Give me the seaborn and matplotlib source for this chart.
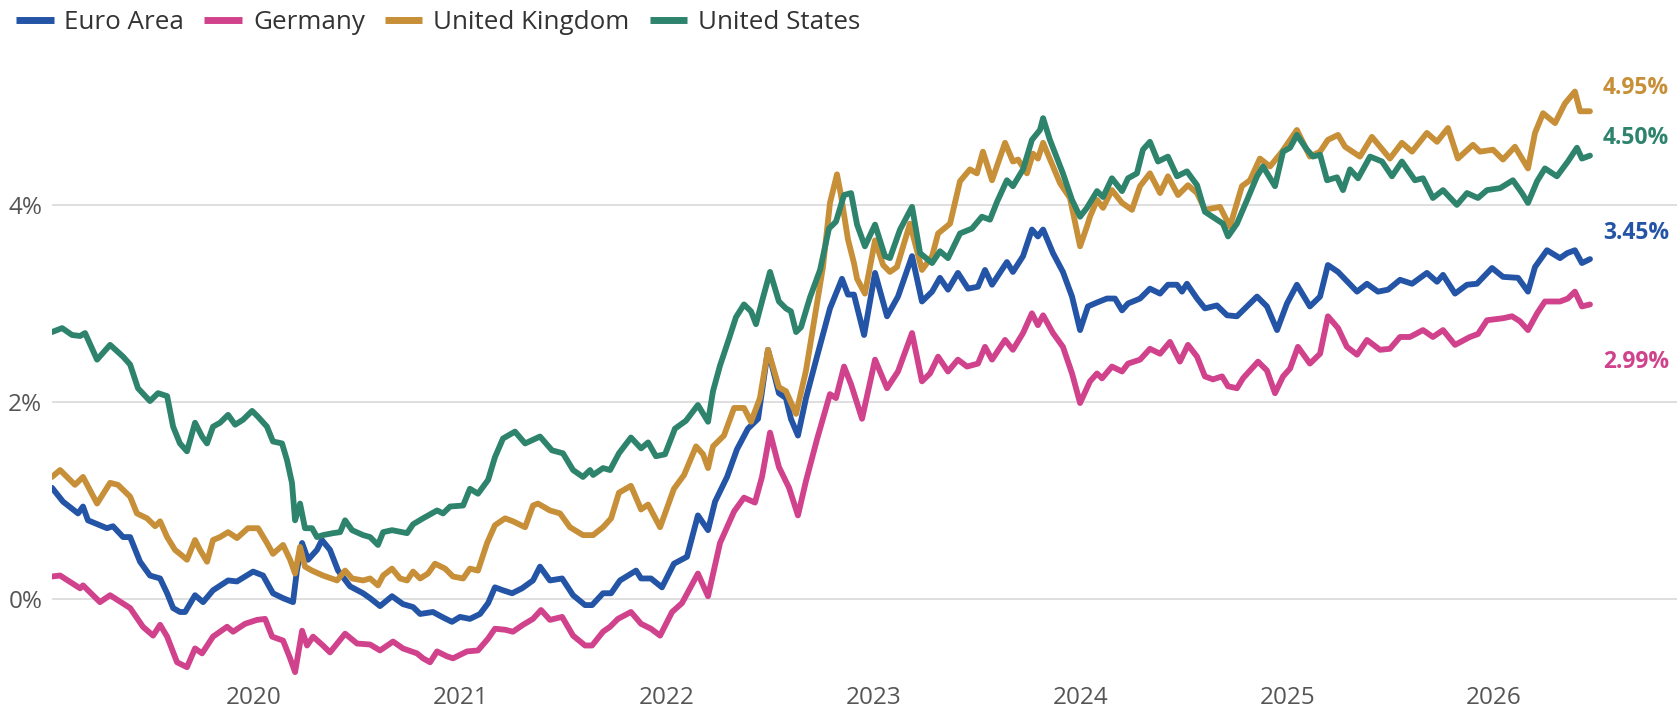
import numpy as np
import pandas as pd
import matplotlib
matplotlib.use("Agg")
import matplotlib.pyplot as plt
import seaborn as sns
from matplotlib.lines import Line2D

# 10-year government bond yields (%), sampled as (decimal year, yield)
series_names = ["Euro Area", "Germany", "United Kingdom", "United States"]
colors = ["#2354a6", "#d1428d", "#c78f37", "#2e836d"]

euro_area = [
    (2019.024, 1.13), (2019.077, 0.99), (2019.150, 0.87), (2019.174, 0.94), (2019.198, 0.80), (2019.290, 0.72),
    (2019.319, 0.74), (2019.368, 0.63), (2019.402, 0.63), (2019.450, 0.38), (2019.498, 0.24), (2019.547, 0.21),
    (2019.581, 0.06), (2019.610, -0.09), (2019.643, -0.13), (2019.668, -0.13), (2019.716, 0.04), (2019.755, -0.03),
    (2019.803, 0.09), (2019.876, 0.19), (2019.919, 0.18), (2019.997, 0.28),
    (2020.045, 0.24), (2020.093, 0.06), (2020.142, 0.01), (2020.190, -0.03), (2020.209, 0.29), (2020.234, 0.57),
    (2020.263, 0.40), (2020.306, 0.50), (2020.330, 0.60), (2020.369, 0.50), (2020.408, 0.29), (2020.466, 0.13),
    (2020.529, 0.06), (2020.563, 0.01), (2020.611, -0.07), (2020.669, 0.03), (2020.722, -0.05), (2020.771, -0.08),
    (2020.805, -0.15), (2020.867, -0.13), (2020.911, -0.18), (2020.959, -0.23), (2020.998, -0.18),
    (2021.046, -0.20), (2021.095, -0.15), (2021.134, -0.04), (2021.167, 0.12), (2021.206, 0.09), (2021.250, 0.06),
    (2021.298, 0.11), (2021.351, 0.19), (2021.385, 0.33), (2021.433, 0.19), (2021.492, 0.21), (2021.545, 0.04),
    (2021.603, -0.06), (2021.637, -0.06), (2021.690, 0.06), (2021.729, 0.06), (2021.772, 0.19), (2021.850, 0.29),
    (2021.874, 0.21), (2021.922, 0.21), (2021.975, 0.12),
    (2022.033, 0.36), (2022.096, 0.43), (2022.149, 0.85), (2022.198, 0.70), (2022.232, 0.99), (2022.290, 1.24),
    (2022.338, 1.52), (2022.391, 1.73), (2022.440, 1.83), (2022.488, 2.53), (2022.541, 2.09), (2022.575, 2.04),
    (2022.599, 1.83), (2022.633, 1.66), (2022.672, 2.04), (2022.725, 2.46), (2022.788, 2.95), (2022.846, 3.25),
    (2022.875, 3.09), (2022.904, 3.09), (2022.953, 2.68),
    (2023.006, 3.31), (2023.064, 2.87), (2023.117, 3.07), (2023.185, 3.48), (2023.233, 3.02), (2023.282, 3.12),
    (2023.320, 3.26), (2023.359, 3.14), (2023.407, 3.31), (2023.456, 3.15), (2023.504, 3.17), (2023.538, 3.34),
    (2023.572, 3.19), (2023.644, 3.42), (2023.673, 3.32), (2023.722, 3.48), (2023.765, 3.75), (2023.794, 3.68),
    (2023.819, 3.75), (2023.867, 3.51), (2023.915, 3.32), (2023.959, 3.07), (2023.998, 2.73),
    (2024.036, 2.97), (2024.080, 3.01), (2024.128, 3.05), (2024.167, 3.05), (2024.201, 2.93), (2024.230, 3.00),
    (2024.288, 3.05), (2024.336, 3.15), (2024.385, 3.10), (2024.423, 3.19), (2024.467, 3.19), (2024.491, 3.12),
    (2024.515, 3.20), (2024.564, 3.05), (2024.602, 2.95), (2024.660, 2.98), (2024.709, 2.88), (2024.757, 2.87),
    (2024.796, 2.95), (2024.854, 3.07), (2024.902, 2.97), (2024.951, 2.73), (2024.999, 3.00),
    (2025.047, 3.19), (2025.110, 2.97), (2025.159, 3.07), (2025.197, 3.39), (2025.246, 3.32), (2025.338, 3.12),
    (2025.386, 3.20), (2025.439, 3.12), (2025.488, 3.14), (2025.546, 3.24), (2025.604, 3.20), (2025.676, 3.31),
    (2025.725, 3.22), (2025.754, 3.29), (2025.812, 3.10), (2025.870, 3.19), (2025.918, 3.20), (2025.991, 3.36),
    (2026.044, 3.27), (2026.117, 3.26), (2026.165, 3.12), (2026.199, 3.37), (2026.257, 3.54), (2026.320, 3.46),
    (2026.354, 3.51), (2026.392, 3.54), (2026.426, 3.41), (2026.465, 3.45),
]

germany = [
    (2019.024, 0.23), (2019.063, 0.24), (2019.160, 0.11), (2019.174, 0.14), (2019.256, -0.03), (2019.305, 0.04),
    (2019.402, -0.09), (2019.464, -0.28), (2019.513, -0.37), (2019.547, -0.26), (2019.581, -0.38), (2019.629, -0.64),
    (2019.677, -0.69), (2019.716, -0.50), (2019.750, -0.55), (2019.803, -0.38), (2019.871, -0.28), (2019.900, -0.33),
    (2019.958, -0.25),
    (2020.016, -0.21), (2020.055, -0.20), (2020.089, -0.38), (2020.142, -0.42), (2020.176, -0.60), (2020.200, -0.74),
    (2020.234, -0.32), (2020.258, -0.47), (2020.287, -0.38), (2020.335, -0.47), (2020.369, -0.54), (2020.442, -0.35),
    (2020.500, -0.45), (2020.563, -0.46), (2020.611, -0.52), (2020.674, -0.43), (2020.722, -0.50), (2020.790, -0.55),
    (2020.819, -0.60), (2020.853, -0.64), (2020.887, -0.53), (2020.935, -0.58), (2020.964, -0.60),
    (2021.032, -0.53), (2021.085, -0.52), (2021.134, -0.40), (2021.167, -0.30), (2021.216, -0.31), (2021.254, -0.33),
    (2021.303, -0.26), (2021.351, -0.20), (2021.390, -0.11), (2021.433, -0.21), (2021.492, -0.18), (2021.545, -0.37),
    (2021.603, -0.47), (2021.637, -0.47), (2021.690, -0.33), (2021.724, -0.28), (2021.762, -0.20), (2021.825, -0.13),
    (2021.874, -0.25), (2021.922, -0.30), (2021.966, -0.37),
    (2022.024, -0.13), (2022.072, -0.04), (2022.149, 0.26), (2022.198, 0.03), (2022.256, 0.57), (2022.324, 0.89),
    (2022.372, 1.03), (2022.425, 0.98), (2022.459, 1.24), (2022.498, 1.69), (2022.541, 1.34), (2022.590, 1.13),
    (2022.633, 0.85), (2022.672, 1.20), (2022.725, 1.62), (2022.788, 2.08), (2022.817, 2.04), (2022.856, 2.36),
    (2022.890, 2.18), (2022.943, 1.83),
    (2023.006, 2.43), (2023.064, 2.14), (2023.117, 2.31), (2023.185, 2.70), (2023.233, 2.21), (2023.272, 2.29),
    (2023.311, 2.46), (2023.359, 2.31), (2023.407, 2.43), (2023.451, 2.36), (2023.504, 2.39), (2023.538, 2.56),
    (2023.572, 2.43), (2023.635, 2.63), (2023.673, 2.53), (2023.722, 2.70), (2023.765, 2.90), (2023.794, 2.78),
    (2023.819, 2.88), (2023.867, 2.70), (2023.915, 2.56), (2023.959, 2.29), (2023.998, 1.99),
    (2024.046, 2.21), (2024.080, 2.29), (2024.104, 2.24), (2024.152, 2.36), (2024.201, 2.31), (2024.230, 2.39),
    (2024.288, 2.43), (2024.336, 2.54), (2024.385, 2.49), (2024.433, 2.61), (2024.481, 2.41), (2024.520, 2.58),
    (2024.564, 2.46), (2024.602, 2.26), (2024.641, 2.23), (2024.685, 2.26), (2024.714, 2.16), (2024.757, 2.14),
    (2024.786, 2.24), (2024.859, 2.41), (2024.902, 2.32), (2024.941, 2.09), (2024.980, 2.26),
    (2025.014, 2.34), (2025.052, 2.56), (2025.110, 2.39), (2025.159, 2.49), (2025.197, 2.87), (2025.246, 2.75),
    (2025.289, 2.56), (2025.338, 2.48), (2025.386, 2.63), (2025.449, 2.53), (2025.497, 2.54), (2025.546, 2.66),
    (2025.594, 2.66), (2025.657, 2.73), (2025.705, 2.66), (2025.754, 2.73), (2025.812, 2.58), (2025.884, 2.66),
    (2025.923, 2.69), (2025.967, 2.83),
    (2026.044, 2.85), (2026.088, 2.87), (2026.126, 2.82), (2026.165, 2.73), (2026.209, 2.90), (2026.247, 3.02),
    (2026.320, 3.02), (2026.358, 3.05), (2026.392, 3.12), (2026.426, 2.97), (2026.465, 2.99),
]

united_kingdom = [
    (2019.024, 1.24), (2019.063, 1.31), (2019.135, 1.16), (2019.174, 1.24), (2019.242, 0.97), (2019.305, 1.18),
    (2019.343, 1.16), (2019.402, 1.04), (2019.435, 0.87), (2019.484, 0.82), (2019.523, 0.74), (2019.547, 0.79),
    (2019.581, 0.63), (2019.619, 0.50), (2019.643, 0.46), (2019.677, 0.40), (2019.716, 0.60), (2019.740, 0.50),
    (2019.774, 0.38), (2019.803, 0.60), (2019.837, 0.63), (2019.876, 0.68), (2019.919, 0.62), (2019.972, 0.72),
    (2020.021, 0.72), (2020.064, 0.57), (2020.093, 0.46), (2020.142, 0.55), (2020.176, 0.40), (2020.200, 0.26),
    (2020.224, 0.53), (2020.248, 0.33), (2020.282, 0.29), (2020.335, 0.24), (2020.403, 0.19), (2020.442, 0.29),
    (2020.476, 0.21), (2020.529, 0.19), (2020.563, 0.21), (2020.601, 0.14), (2020.626, 0.24), (2020.669, 0.31),
    (2020.708, 0.21), (2020.742, 0.19), (2020.771, 0.28), (2020.805, 0.21), (2020.843, 0.26), (2020.877, 0.36),
    (2020.926, 0.31), (2020.964, 0.23),
    (2021.013, 0.21), (2021.046, 0.31), (2021.085, 0.29), (2021.129, 0.57), (2021.167, 0.75), (2021.216, 0.82),
    (2021.254, 0.79), (2021.313, 0.73), (2021.351, 0.95), (2021.375, 0.97), (2021.433, 0.90), (2021.482, 0.87),
    (2021.530, 0.73), (2021.593, 0.65), (2021.642, 0.65), (2021.690, 0.73), (2021.729, 0.82), (2021.767, 1.08),
    (2021.825, 1.15), (2021.874, 0.91), (2021.908, 0.96), (2021.966, 0.73),
    (2022.033, 1.12), (2022.082, 1.26), (2022.140, 1.55), (2022.174, 1.47), (2022.198, 1.33), (2022.222, 1.55),
    (2022.275, 1.66), (2022.324, 1.94), (2022.372, 1.94), (2022.406, 1.80), (2022.449, 2.04), (2022.488, 2.53),
    (2022.541, 2.15), (2022.575, 2.11), (2022.624, 1.88), (2022.672, 2.32), (2022.716, 2.88), (2022.754, 3.37),
    (2022.788, 4.02), (2022.822, 4.31), (2022.841, 4.10), (2022.875, 3.65), (2022.904, 3.41), (2022.919, 3.25),
    (2022.957, 3.10),
    (2023.006, 3.64), (2023.045, 3.39), (2023.078, 3.32), (2023.112, 3.37), (2023.175, 3.81), (2023.233, 3.34),
    (2023.282, 3.48), (2023.311, 3.71), (2023.369, 3.81), (2023.417, 4.24), (2023.465, 4.36), (2023.499, 4.32),
    (2023.528, 4.54), (2023.572, 4.25), (2023.635, 4.63), (2023.673, 4.44), (2023.698, 4.46), (2023.741, 4.32),
    (2023.770, 4.52), (2023.794, 4.47), (2023.819, 4.63), (2023.867, 4.39), (2023.901, 4.22), (2023.949, 4.07),
    (2023.998, 3.58),
    (2024.031, 3.78), (2024.046, 3.88), (2024.080, 4.05), (2024.109, 3.97), (2024.152, 4.15), (2024.201, 4.02),
    (2024.249, 3.95), (2024.288, 4.19), (2024.336, 4.32), (2024.385, 4.12), (2024.423, 4.29), (2024.472, 4.10),
    (2024.520, 4.20), (2024.564, 4.12), (2024.602, 3.95), (2024.675, 3.98), (2024.723, 3.78), (2024.781, 4.19),
    (2024.820, 4.25), (2024.868, 4.47), (2024.917, 4.39), (2024.975, 4.54),
    (2025.047, 4.76), (2025.110, 4.49), (2025.159, 4.54), (2025.197, 4.66), (2025.246, 4.71), (2025.280, 4.59),
    (2025.352, 4.49), (2025.410, 4.69), (2025.497, 4.47), (2025.555, 4.63), (2025.604, 4.54), (2025.676, 4.73),
    (2025.725, 4.64), (2025.778, 4.78), (2025.826, 4.47), (2025.899, 4.61), (2025.933, 4.54), (2025.996, 4.56),
    (2026.044, 4.46), (2026.102, 4.59), (2026.165, 4.37), (2026.199, 4.73), (2026.238, 4.93), (2026.296, 4.83),
    (2026.344, 5.03), (2026.392, 5.15), (2026.417, 4.95), (2026.465, 4.95),
]

united_states = [
    (2019.024, 2.71), (2019.073, 2.75), (2019.121, 2.68), (2019.160, 2.67), (2019.184, 2.70), (2019.242, 2.43),
    (2019.305, 2.58), (2019.368, 2.46), (2019.402, 2.38), (2019.440, 2.14), (2019.498, 2.01), (2019.537, 2.09),
    (2019.581, 2.06), (2019.610, 1.75), (2019.643, 1.58), (2019.677, 1.50), (2019.716, 1.79), (2019.750, 1.65),
    (2019.774, 1.58), (2019.803, 1.75), (2019.837, 1.79), (2019.876, 1.87), (2019.910, 1.77), (2019.948, 1.82),
    (2019.992, 1.91),
    (2020.021, 1.85), (2020.064, 1.75), (2020.093, 1.60), (2020.137, 1.58), (2020.161, 1.41), (2020.185, 1.18),
    (2020.200, 0.80), (2020.224, 0.97), (2020.248, 0.72), (2020.282, 0.72), (2020.306, 0.63), (2020.335, 0.65),
    (2020.384, 0.67), (2020.418, 0.68), (2020.442, 0.80), (2020.476, 0.70), (2020.529, 0.65), (2020.563, 0.63),
    (2020.601, 0.55), (2020.626, 0.68), (2020.669, 0.70), (2020.742, 0.67), (2020.771, 0.76), (2020.819, 0.82),
    (2020.887, 0.90), (2020.916, 0.87), (2020.950, 0.94),
    (2021.013, 0.95), (2021.046, 1.12), (2021.085, 1.07), (2021.134, 1.21), (2021.167, 1.44), (2021.206, 1.63),
    (2021.264, 1.70), (2021.313, 1.58), (2021.385, 1.65), (2021.443, 1.51), (2021.496, 1.48), (2021.545, 1.31),
    (2021.593, 1.24), (2021.627, 1.31), (2021.642, 1.26), (2021.690, 1.33), (2021.724, 1.31), (2021.767, 1.48),
    (2021.825, 1.64), (2021.874, 1.53), (2021.908, 1.59), (2021.946, 1.45), (2021.990, 1.47),
    (2022.038, 1.73), (2022.091, 1.81), (2022.149, 1.97), (2022.198, 1.80), (2022.222, 2.11), (2022.256, 2.37),
    (2022.299, 2.64), (2022.333, 2.86), (2022.372, 2.99), (2022.406, 2.92), (2022.430, 2.79), (2022.464, 3.06),
    (2022.498, 3.32), (2022.541, 3.02), (2022.575, 2.95), (2022.599, 2.92), (2022.624, 2.71), (2022.648, 2.76),
    (2022.691, 3.06), (2022.740, 3.34), (2022.783, 3.76), (2022.817, 3.83), (2022.856, 4.10), (2022.890, 4.12),
    (2022.919, 3.80), (2022.957, 3.58),
    (2023.006, 3.80), (2023.054, 3.48), (2023.078, 3.46), (2023.127, 3.75), (2023.185, 3.98), (2023.224, 3.51),
    (2023.282, 3.41), (2023.320, 3.53), (2023.359, 3.46), (2023.417, 3.71), (2023.475, 3.76), (2023.523, 3.88),
    (2023.562, 3.85), (2023.596, 4.03), (2023.644, 4.25), (2023.673, 4.19), (2023.722, 4.36), (2023.765, 4.66),
    (2023.804, 4.76), (2023.819, 4.88), (2023.852, 4.66), (2023.915, 4.32), (2023.959, 4.05), (2023.998, 3.88),
    (2024.031, 3.97), (2024.080, 4.14), (2024.109, 4.08), (2024.152, 4.27), (2024.201, 4.14), (2024.230, 4.27),
    (2024.273, 4.32), (2024.302, 4.56), (2024.336, 4.64), (2024.375, 4.44), (2024.423, 4.49), (2024.467, 4.29),
    (2024.515, 4.34), (2024.564, 4.20), (2024.602, 3.93), (2024.660, 3.85), (2024.689, 3.81), (2024.714, 3.68),
    (2024.757, 3.81), (2024.806, 4.05), (2024.854, 4.29), (2024.883, 4.39), (2024.941, 4.19), (2024.980, 4.54),
    (2025.014, 4.58), (2025.047, 4.71), (2025.096, 4.56), (2025.125, 4.49), (2025.159, 4.51), (2025.193, 4.25),
    (2025.241, 4.28), (2025.270, 4.15), (2025.304, 4.36), (2025.343, 4.27), (2025.401, 4.49), (2025.459, 4.44),
    (2025.507, 4.29), (2025.555, 4.44), (2025.618, 4.25), (2025.657, 4.27), (2025.705, 4.07), (2025.754, 4.15),
    (2025.821, 4.00), (2025.870, 4.12), (2025.923, 4.07), (2025.967, 4.15),
    (2026.030, 4.17), (2026.092, 4.25), (2026.136, 4.12), (2026.165, 4.02), (2026.209, 4.24), (2026.247, 4.37),
    (2026.305, 4.29), (2026.358, 4.44), (2026.402, 4.58), (2026.426, 4.47), (2026.465, 4.50),
]

year_ticks = [2020, 2021, 2022, 2023, 2024, 2025, 2026]
pct_ticks = [0, 2, 4]

# long-form table for seaborn
frames = []
for name, pts in zip(series_names, [euro_area, germany, united_kingdom, united_states]):
    arr = np.asarray(pts, dtype=float)
    frames.append(pd.DataFrame({"year": arr[:, 0], "yield": arr[:, 1], "series": name}))
df = pd.concat(frames, ignore_index=True)

sns.set_theme(style="white")
plt.rcParams["font.family"] = ["Open Sans", "DejaVu Sans"]

fig = plt.figure(figsize=(16.77, 7.09), dpi=100)
ax = fig.add_axes([52 / 1677, 29 / 709, 1625 / 1677, 620 / 709])

sns.lineplot(
    data=df, x="year", y="yield", hue="series", hue_order=series_names,
    palette=colors, estimator=None, linewidth=4.2, legend=False, ax=ax,
    solid_joinstyle="round", solid_capstyle="round",
)

ax.set_xlim(2019.024, 2026.886)
ax.set_ylim(-0.82, 5.47)
ax.set_xticks(year_ticks)
ax.set_xticklabels([str(y) for y in year_ticks])
ax.set_yticks(pct_ticks)
ax.set_yticklabels([f"{v}%" for v in pct_ticks])
ax.set_xlabel("")
ax.set_ylabel("")
ax.grid(axis="y", color="#d9d9d9", linewidth=1.2)
ax.grid(axis="x", visible=False)
ax.set_axisbelow(True)
for sp in ax.spines.values():
    sp.set_visible(False)
ax.tick_params(length=0, labelsize=17.5, colors="#555555")
ax.tick_params(axis="y", pad=7)
ax.tick_params(axis="x", pad=4)

# value labels at the end of each line
label_offsets = {"Euro Area": (13, 26), "Germany": (13, -58),
                 "United Kingdom": (13, 23), "United States": (13, 18)}
for name, pts, col in zip(series_names, [euro_area, germany, united_kingdom, united_states], colors):
    t_last, v_last = pts[-1]
    ax.annotate(f"{v_last:.2f}%", xy=(t_last, v_last), xytext=label_offsets[name],
                textcoords="offset pixels", ha="left", va="center", fontsize=16.5,
                fontweight="bold", color=col, annotation_clip=False)

handles = [Line2D([0], [0], color=c, lw=5, solid_capstyle="butt") for c in colors]
fig.legend(handles, series_names, loc="center left", bbox_to_anchor=(0.0095, 0.968),
           ncol=4, frameon=False, fontsize=18.7, handlelength=1.45, handletextpad=0.42,
           columnspacing=0.77, labelcolor="#333333", borderaxespad=0, borderpad=0)

fig.savefig("out.png", dpi=100)
